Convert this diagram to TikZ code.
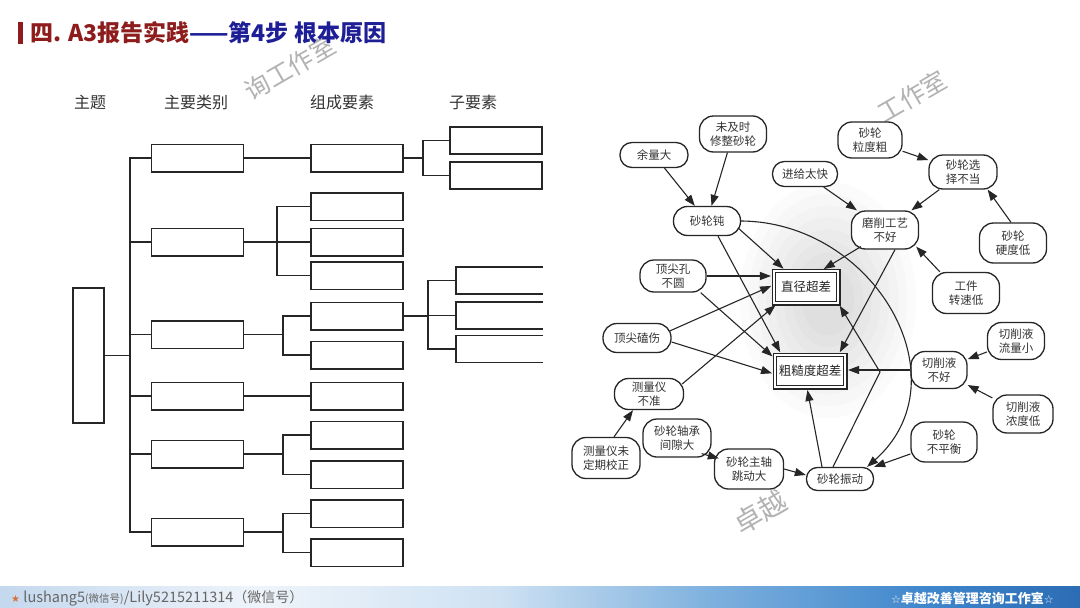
\documentclass[tikz,border=0pt]{standalone}
\usepackage{fontspec}
\setmainfont{Noto Sans CJK SC}
\newfontfamily\djv{DejaVu Sans}
\usetikzlibrary{arrows.meta,calc}
\definecolor{tred}{HTML}{8E1C1C}
\definecolor{tblue}{HTML}{1E1E96}
\definecolor{ink}{HTML}{262626}
\definecolor{fA}{HTML}{C4D8EE}
\definecolor{fB}{HTML}{EEF4FA}
\definecolor{fC}{HTML}{CFE2F3}
\definecolor{fD}{HTML}{7DB0DE}
\definecolor{fE}{HTML}{3F86CC}
\definecolor{fF}{HTML}{2C6CB4}
\definecolor{starc}{HTML}{D9703A}
\pgfdeclarehorizontalshading{footbar}{100bp}{color(0bp)=(fA); color(25bp)=(fA); color(37bp)=(fB); color(48bp)=(fC); color(58bp)=(fD); color(68bp)=(fE); color(75bp)=(fF); color(100bp)=(fF)}
\begin{document}
\begin{tikzpicture}[x=1pt,y=-1pt,
  lbox/.style={draw=ink, line width=1.5pt, minimum width=92pt, minimum height=27.5pt, inner sep=0pt},
  sbox/.style={draw=ink, line width=1.5pt, minimum width=92pt, minimum height=27pt, inner sep=0pt},
  obox/.style={minimum width=87pt, minimum height=27pt, inner sep=0pt},
  lline/.style={draw=ink, line width=1.3pt},
  hdr/.style={font=\fontsize{16}{16}\selectfont, text=black!80},
  bub/.style={draw=ink, fill=white, line width=1.3pt, rounded corners=14pt, align=center, inner sep=0pt, text=black!80, font=\fontsize{11.5}{13.5}\selectfont},
  big/.style={draw=ink, fill=white, double, double distance=2.4pt, line width=1.1pt, inner sep=0pt, text=black!85, font=\fontsize{12.5}{14}\selectfont},
  edge/.style={draw=ink, line width=1.1pt, -{Triangle[length=11pt,width=8pt]}},
  tobig/.style={shorten >=2.3pt},
  wm/.style={text=black!30, rotate=30, inner sep=0pt, font=\fontsize{25}{25}\selectfont}
]
\useasboundingbox (0,0) rectangle (1080,608);
\fill[white] (0,0) rectangle (1080,608);

% watermarks
\node[wm] (wm1) at (290,68) {询工作室};
\node[wm] (wm2) at (912,96) {工作室};
\node[wm, font=\fontsize{28}{28}\selectfont] (wm3) at (760,512) {卓越};

% title
\fill[tred] (18,22) rectangle (22.5,43.5);
\node[anchor=west, inner sep=0pt, font=\bfseries\fontsize{23}{23}\selectfont] (title) at (30,33)
  {\textcolor{tred}{四. A3报告实践}\textcolor{tblue}{——第4步 根本原因}};

% ---------- left tree ----------
\node[hdr] (h1) at (90,102) {主题};
\node[hdr] (h2) at (196,102) {主要类别};
\node[hdr] (h3) at (342,102) {组成要素};
\node[hdr] (h4) at (473,102) {子要素};

\node[draw=ink, line width=1.5pt, minimum width=31pt, minimum height=135pt, inner sep=0pt] (th) at (88.5,355.5) {};
\node[lbox] (c1) at (197.5,158) {};
\node[lbox] (c2) at (197.5,242) {};
\node[lbox] (c3) at (197.5,334.5) {};
\node[lbox] (c4) at (197.5,396) {};
\node[lbox] (c5) at (197.5,454) {};
\node[lbox] (c6) at (197.5,532) {};

\node[lbox] (e1) at (357,158) {};
\node[lbox] (e2) at (357,206.5) {};
\node[lbox] (e3) at (357,242) {};
\node[lbox] (e4) at (357,275.5) {};
\node[lbox] (e5) at (357,316) {};
\node[lbox] (e6) at (357,355) {};
\node[lbox] (e7) at (357,396) {};
\node[lbox] (e8) at (357,435) {};
\node[lbox] (e9) at (357,474.5) {};
\node[lbox] (e10) at (357,513.5) {};
\node[lbox] (e11) at (357,552.5) {};

\node[sbox] (s1) at (496,140.5) {};
\node[sbox] (s2) at (496,175.5) {};
\node[obox] (s3) at (499.5,280.5) {};
\node[obox] (s4) at (499.5,315.5) {};
\node[obox] (s5) at (499.5,349) {};
\foreach \s in {s3,s4,s5}
  \draw[draw=ink, line width=1.5pt] (\s.north east) -- (\s.north west) -- (\s.south west) -- (\s.south east);

\coordinate (tr) at (130,0);
\coordinate (b2) at (277,0);
\coordinate (b3) at (283,0);
\coordinate (b4) at (423,0);
\coordinate (b5) at (428,0);

\draw[lline] (th.east) -- (th.east -| tr);
\draw[lline] (c1.west) -- (c1.west -| tr) -- (c6.west -| tr) -- (c6.west);
\foreach \c in {c2,c3,c4,c5}
  \draw[lline] (\c.west) -- (\c.west -| tr);

\draw[lline] (c1.east) -- (e1.west);
\draw[lline] (c2.east) -- (e3.west);
\draw[lline] (e2.west) -- (e2.west -| b2) -- (e4.west -| b2) -- (e4.west);
\draw[lline] (c3.east) -- (c3.east -| b3);
\draw[lline] (e5.west) -- (e5.west -| b3) -- (e6.west -| b3) -- (e6.west);
\draw[lline] (c4.east) -- (e7.west);
\draw[lline] (c5.east) -- (c5.east -| b3);
\draw[lline] (e8.west) -- (e8.west -| b3) -- (e9.west -| b3) -- (e9.west);
\draw[lline] (c6.east) -- (c6.east -| b3);
\draw[lline] (e10.west) -- (e10.west -| b3) -- (e11.west -| b3) -- (e11.west);

\draw[lline] (e1.east) -- (e1.east -| b4);
\draw[lline] (s1.west) -- (s1.west -| b4) -- (s2.west -| b4) -- (s2.west);
\draw[lline] (e5.east) -- (e5.east -| b5);
\draw[lline] (s3.west) -- (s3.west -| b5) -- (s5.west -| b5) -- (s5.west);
\draw[lline] (s4.west) -- (s4.west -| b5);

% ---------- right graph ----------
\foreach \r in {1,0.9,0.8,0.7,0.6,0.5,0.4,0.3}
  \fill[black, opacity=0.014] (828,300) ellipse [x radius=88*\r pt, y radius=118*\r pt];

\node[bub, rounded corners=12pt, minimum width=68pt, minimum height=25pt] (yl) at (654,155) {余量大};
\node[bub, minimum width=67pt, minimum height=36pt] (wjs) at (733,134) {未及时\\修整砂轮};
\node[bub, minimum width=67pt, minimum height=29pt] (sld) at (707,221) {砂轮钝};
\node[bub, rounded corners=12pt, minimum width=65pt, minimum height=25pt] (jg) at (805,174) {进给太快};
\node[bub, minimum width=64pt, minimum height=36pt] (ld) at (870,140) {砂轮\\粒度粗};
\node[bub, minimum width=68pt, minimum height=34pt] (xz) at (963,172) {砂轮选\\择不当};
\node[bub, minimum width=67pt, minimum height=38pt] (mx) at (885,230) {磨削工艺\\不好};
\node[bub, minimum width=67pt, minimum height=40pt] (yd) at (1013,243) {砂轮\\硬度低};
\node[bub, minimum width=66pt, minimum height=32pt] (dk) at (673,276) {顶尖孔\\不圆};
\node[bub, minimum width=68pt, minimum height=29pt] (ds) at (637,338) {顶尖磕伤};
\node[bub, minimum width=69pt, minimum height=31pt] (cb) at (649,394) {测量仪\\不准};
\node[bub, minimum width=68pt, minimum height=41pt] (cw) at (606,458) {测量仪未\\定期校正};
\node[bub, minimum width=68pt, minimum height=38pt] (zc) at (677,438) {砂轮轴承\\间隙大};
\node[bub, minimum width=69pt, minimum height=40pt] (zz) at (749,469) {砂轮主轴\\跳动大};
\node[bub, minimum width=67pt, minimum height=41pt] (zs) at (966,293) {工件\\转速低};
\node[bub, minimum width=57pt, minimum height=37pt] (ll) at (1016,341) {切削液\\流量小};
\node[bub, minimum width=56pt, minimum height=37pt] (qx) at (939,370) {切削液\\不好};
\node[bub, minimum width=60pt, minimum height=38pt] (nd) at (1023,414) {切削液\\浓度低};
\node[bub, minimum width=66pt, minimum height=40pt] (bp) at (944,442) {砂轮\\不平衡};
\node[bub, rounded corners=11pt, minimum width=67pt, minimum height=23pt] (zd) at (840,479) {砂轮振动};
\node[big, minimum width=64.4pt, minimum height=32.4pt] (zj) at (806,287) {直径超差};
\node[big, minimum width=70.4pt, minimum height=32.4pt] (cc) at (810,371) {粗糙度超差};
\coordinate (kink) at (880,372);

\draw[edge] (yl) -- (sld);
\draw[edge] (wjs) -- (sld);
\draw[edge,tobig] ($(sld.east)+(-3,7)$) -- ($(zj.north west)+(12,0)$);
\draw[edge,tobig] ($(sld.south)+(11,0)$) -- ($(cc.north west)+(7,0)$);
\draw[edge] (sld.east) .. controls (875,222) and (965,380) .. ($(zd.north east)+(-7,0)$);
\draw[edge] (jg) -- (mx);
\draw[edge] (ld) -- (xz);
\draw[edge] (xz) -- (mx);
\draw[edge] ($(yd.north)+(-2,0)$) -- ($(xz.south east)+(-10,0)$);
\draw[edge] (zs.north west) ++(8,0) -- ($(mx.south east)+(-3,-3)$);
\draw[edge,tobig] ($(mx.south west)+(10,-3)$) -- ($(zj.north east)+(-17,0)$);
\draw[edge,tobig] ($(mx.south)+(10,0)$) -- ($(cc.north east)+(-7,0)$);
\draw[edge,tobig] (dk.east) -- ($(zj.west)+(0,-11)$);
\draw[edge,tobig] ($(dk.south east)+(-6,0)$) -- ($(cc.west)+(0,-13)$);
\draw[edge,tobig] ($(ds.east)+(-2,-7)$) -- ($(zj.west)+(0,-2)$);
\draw[edge,tobig] ($(ds.east)+(0,4)$) -- ($(cc.west)+(0,3)$);
\draw[edge,tobig] ($(cb.east)+(-2,-10)$) -- ($(zj.south west)+(4,0)$);
\draw[edge] ($(cw.north)+(8,0)$) -- ($(cb.south)+(-16,0)$);
\draw[edge] ($(zc.south east)+(-10,-4)$) -- ($(zz.north west)+(5,10)$);
\draw[edge] (zz.east) -- ($(zd.west)+(0,-4)$);
\draw[edge,tobig] ($(zd.north)+(-18,0)$) -- ($(cc.south)+(-3,0)$);
\draw[edge] ($(zd.north)+(-7,0)$) -- (kink) -- ($(zj.south east)+(1,2)$);
\draw[edge,tobig] (qx.west) -- (qx.west -| cc.east);
\draw[edge] (ll) -- (qx);
\draw[edge] (nd) -- (qx);
\draw[edge] (bp) -- (zd);

% ---------- footer ----------
\fill[shading=footbar] (0,586) rectangle (1080,608);
\node[anchor=west, inner sep=0pt, text=black!60, font=\fontsize{14.5}{14.5}\selectfont] (fl) at (11,598)
  {{\djv\fontsize{10}{10}\selectfont\textcolor{starc}{★}} lushang5{\fontsize{10.5}{10.5}\selectfont(微信号)}/Lily5215211314{\fontsize{14}{14}\selectfont（微信号）}};
\node[anchor=east, inner sep=0pt, text=white, font=\bfseries\fontsize{13}{13}\selectfont] (fr) at (1054,598)
  {{\djv\fontsize{11}{11}\selectfont☆}卓越改善管理咨询工作室{\djv\fontsize{11}{11}\selectfont☆}};
\end{tikzpicture}
\end{document}
